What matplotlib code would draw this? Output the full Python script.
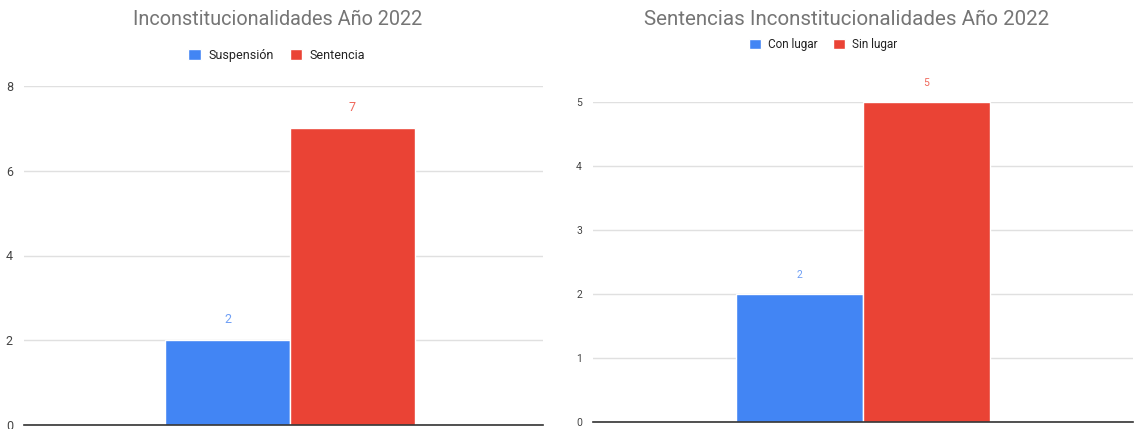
import matplotlib.pyplot as plt

plt.rcParams['font.family'] = ['Roboto', 'DejaVu Sans']

# left chart
left_title = "Inconstitucionalidades Año 2022"
left_labels = ["Suspensión", "Sentencia"]
left_values = [2, 7]
left_ticks = [0, 2, 4, 6, 8]

# right chart
right_title = "Sentencias Inconstitucionalidades Año 2022"
right_labels = ["Con lugar", "Sin lugar"]
right_values = [2, 5]
right_ticks = [0, 1, 2, 3, 4, 5]

colors = ["#4285F4", "#EA4335"]
label_colors = ["#6f9ff5", "#f0675a"]

W, H = 1134, 429
fig = plt.figure(figsize=(W / 100, H / 100), dpi=100)


def px_axes(x0, y_top, x1, y_bottom):
    return fig.add_axes([x0 / W, (H - y_bottom) / H, (x1 - x0) / W, (y_bottom - y_top) / H])


def draw(ax, title, labels, values, ticks, bar_w, shift, title_size, tick_size,
         leg_size, title_xy, leg_xy, val_pad):
    offsets = [-bar_w / 2, bar_w / 2]
    for lab, v, off, c, lc in zip(labels, values, offsets, colors, label_colors):
        ax.bar(off, v, width=bar_w, color=c, edgecolor='white', linewidth=1.0,
               label=lab, zorder=3)
        ax.annotate(str(v), (off, v), xytext=(0, val_pad), textcoords='offset points',
                    ha='center', va='bottom', color=lc, fontsize=tick_size)
    ax.set_xlim(-1 - shift, 1 - shift)
    ax.set_ylim(ticks[0], ticks[-1])
    ax.set_yticks(ticks)
    ax.set_xticks([])
    ax.grid(axis='y', color='#e0e0e0', linewidth=1.0, zorder=0)
    for s in ['top', 'right', 'left']:
        ax.spines[s].set_visible(False)
    ax.spines['bottom'].set_color('#333333')
    ax.spines['bottom'].set_linewidth(1.2)
    ax.spines['bottom'].set_zorder(4)
    ax.tick_params(axis='y', length=0, labelsize=tick_size, labelcolor='#444444', pad=8)
    ax.set_title(title, fontsize=title_size, color='#757575',
                 x=title_xy[0], y=title_xy[1])
    ax.legend(loc='center', bbox_to_anchor=leg_xy, ncol=2, frameon=False,
              fontsize=leg_size, handlelength=1.0, handleheight=1.0,
              handletextpad=0.6, columnspacing=1.3, labelcolor='#222222')


ax1 = px_axes(24, 86, 543, 425)
draw(ax1, left_title, left_labels, left_values, left_ticks, 0.48, 0.025,
     14.3, 9, 9, (0.488, 1.155), (0.487, 1.09), 10)

ax2 = px_axes(593, 102, 1133, 422)
draw(ax2, right_title, right_labels, right_values, right_ticks, 0.47, 0.0,
     14.8, 7.5, 8.5, (0.47, 1.215), (0.426, 1.18), 10)

fig.savefig("out.png", dpi=100)
